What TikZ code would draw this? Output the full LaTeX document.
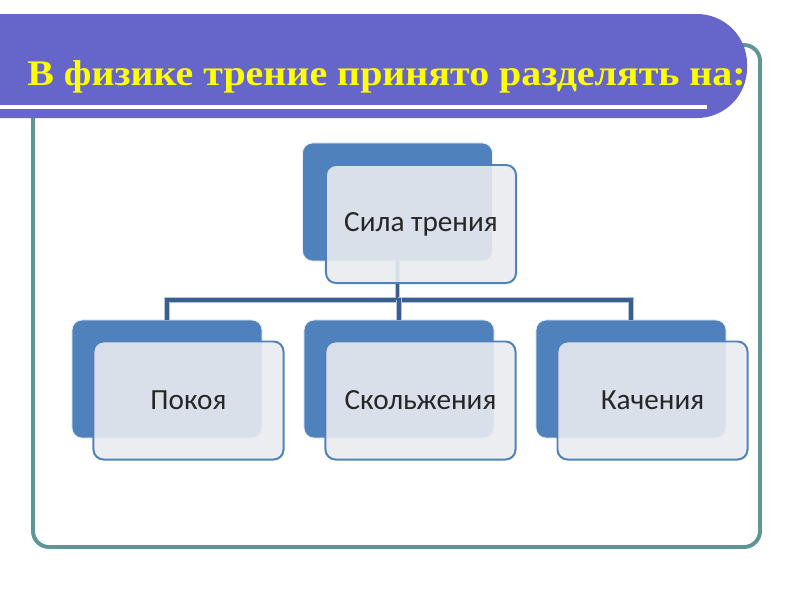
\documentclass[tikz,border=0pt]{standalone}
\usepackage{fontspec}
\setmainfont{Liberation Serif}
\newfontfamily\boxfont{Carlito}
\definecolor{barblue}{HTML}{6565CA}
\definecolor{frameteal}{HTML}{5E9696}
\definecolor{boxblue}{HTML}{4F81BD}
\definecolor{frontgray}{HTML}{E9EBEF}
\definecolor{linkblue}{HTML}{3B5E91}
\definecolor{linkedge}{HTML}{B4C6DE}
\definecolor{titleyellow}{HTML}{FFFF00}
\tikzset{
	back box/.style={rectangle,rounded corners=0.25cm,fill=boxblue,draw=white!88!gray,line width=0.6pt,minimum width=4.75cm,minimum height=2.95cm},
	front box/.style={rectangle,rounded corners=0.25cm,fill=frontgray,fill opacity=0.9,text opacity=1,draw=boxblue,line width=1.4pt,minimum width=4.75cm,minimum height=2.95cm,text=black!85,font=\boxfont\fontsize{20.8}{24}\selectfont},
	link/.style={draw=linkblue,line width=2.2pt,preaction={draw=linkedge,line width=3.6pt}}
}
\begin{document}
\begin{tikzpicture}[x=0.025cm,y=-0.025cm]
	\useasboundingbox (0,0) rectangle (800,600);
	\draw[frameteal,line width=2.8pt,rounded corners=0.4cm] (33,45) rectangle (760,547);
	\begin{scope}
		\clip (0,0) rectangle (800,600);
		\fill[barblue,rounded corners=1.25cm] (-80,14) rectangle (747,118);
	\end{scope}
	\draw[white,line width=2.2pt] (0,107) -- (707,107);
	\node[anchor=base west,inner sep=0,text=titleyellow,font=\bfseries\fontsize{25.6}{30}\selectfont] (title) at (27,85) {\scalebox{1.11}[1]{В физике трение принято разделять на:}};
	
	\begin{scope}[every node/.style={back box}]
		\node (S) at (397.5,202) {};
		\node (P) at (167,379) {};
		\node (K) at (399,379) {};
		\node (R) at (631,379) {};
	\end{scope}
	
	\coordinate (bus) at (0,300);
	\draw[link] (S.south) -- (S.south |- bus) -| (P.north);
	\draw[link] (S.south |- bus) -| (R.north);
	\draw[link] (S.south |- bus) -| (K.north);
	
	\begin{scope}[every node/.style={front box}]
		\node (S1) at (421,224) {Сила трения};
		\node (P1) at (188.5,400.5) {Покоя};
		\node (K1) at (420.5,400.5) {Скольжения};
		\node (R1) at (652.5,400.5) {Качения};
	\end{scope}
\end{tikzpicture}
\end{document}
